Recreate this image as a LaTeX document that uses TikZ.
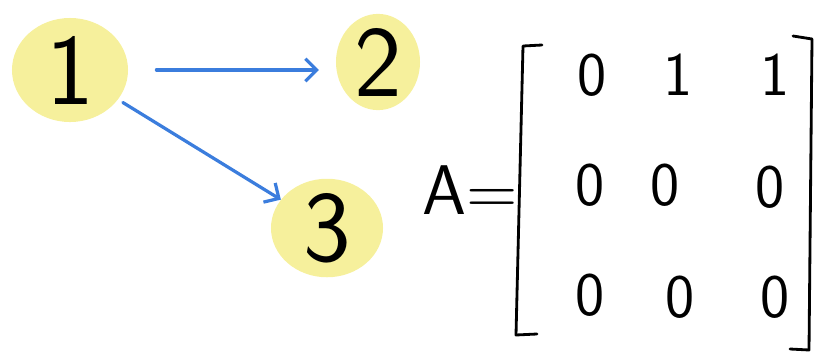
\documentclass[tikz,border=0pt]{standalone}
\usetikzlibrary{arrows.meta,shapes.geometric}
\definecolor{blobyellow}{HTML}{F6F09C}
\definecolor{penblue}{HTML}{3B7DDD}
\tikzset{
  vertex/.style={ellipse, fill=blobyellow, inner sep=0pt, font=\sffamily\fontsize{72}{72}\selectfont},
  edge/.style={penblue, line width=2.3pt, line cap=round, -{Straight Barb[length=8pt,width=16pt]}},
  entry/.style={font=\sffamily\fontsize{44}{44}\selectfont},
  bracket/.style={line width=2pt, line join=round, line cap=round}
}
\begin{document}
\begin{tikzpicture}[x=0.025cm,y=-0.025cm]
  \useasboundingbox (0,0) rectangle (834,363);

  % graph
  \node[vertex, minimum width=2.9cm, minimum height=2.6cm] (one) at (70,70) {1};
  \node[vertex, minimum width=2.1cm, minimum height=2cm] (two) at (378,62) {2};
  \node[vertex, minimum width=2.8cm, minimum height=2.2cm] (three) at (327,228) {3};
  \draw[edge, shorten <=20pt, shorten >=12pt] (one) -- (two.west |- one);
  \draw[edge, shorten <=4pt] (one) -- (three);

  % adjacency matrix
  \node[font=\sffamily\fontsize{50}{50}\selectfont] (lhs) at (470,190) {A=};
  \draw[bracket] (542,45) -- (523,46) -- (516,335) -- (537,334);
  \draw[bracket] (793,36) -- (812,39) -- (809,350) -- (790,349);
  \node[entry] (a11) at (592,75) {0};
  \node[entry] (a12) at (678,75) {1};
  \node[entry] (a13) at (775,75) {1};
  \node[entry] (a21) at (590,185) {0};
  \node[entry] (a22) at (665,185) {0};
  \node[entry] (a23) at (770,187) {0};
  \node[entry] (a31) at (590,295) {0};
  \node[entry] (a32) at (680,297) {0};
  \node[entry] (a33) at (775,297) {0};
\end{tikzpicture}
\end{document}
